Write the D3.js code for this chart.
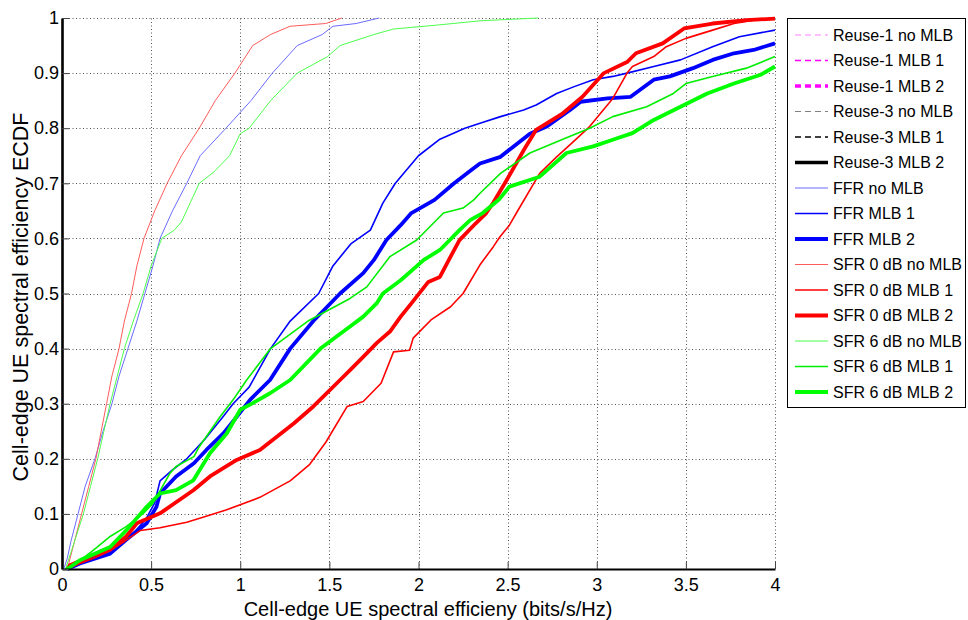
<!DOCTYPE html>
<html>
<head>
<meta charset="utf-8">
<script src="https://cdn.jsdelivr.net/npm/d3@7"></script>
<style>
  html, body { margin: 0; padding: 0; background: #fff; }
  svg { display: block; font-family: "Liberation Sans", Arial, Helvetica, sans-serif; }
</style>
</head>
<body>
<svg id="chart" width="968" height="620"></svg>
<script>
// ECDF samples: [spectral efficiency (bits/s/Hz), cumulative probability]
const ffrNoMlb = [[0.01,0],[0.03,0.02],[0.05,0.05],[0.09,0.1],[0.13,0.15],[0.185,0.2],[0.23,0.25],[0.28,0.3],[0.32,0.35],[0.37,0.4],[0.42,0.45],[0.465,0.5],[0.51,0.55],[0.55,0.6],[0.62,0.65],[0.70,0.7],[0.775,0.75],[0.92,0.8],[1.06,0.85],[1.18,0.9],[1.32,0.95],[1.46,0.97],[1.52,0.985],[1.65,0.99],[1.78,1.0]];
const ffrMlb1 = [[0.02,0],[0.1,0.01],[0.2,0.025],[0.3,0.04],[0.4,0.065],[0.47,0.09],[0.52,0.12],[0.55,0.16],[0.62,0.18],[0.7,0.2],[0.8,0.235],[0.9,0.275],[0.96,0.3],[1.05,0.33],[1.17,0.4],[1.28,0.45],[1.44,0.5],[1.52,0.55],[1.62,0.59],[1.73,0.615],[1.80,0.664],[1.87,0.7],[2.0,0.75],[2.12,0.78],[2.26,0.8],[2.345,0.809],[2.46,0.821],[2.59,0.833],[2.66,0.842],[2.775,0.863],[2.87,0.875],[2.98,0.888],[3.09,0.894],[3.17,0.9],[3.32,0.912],[3.47,0.924],[3.65,0.948],[3.80,0.966],[4.0,0.978]];
const ffrMlb2 = [[0.03,0],[0.1,0.01],[0.27,0.028],[0.36,0.053],[0.475,0.083],[0.53,0.113],[0.55,0.137],[0.64,0.168],[0.74,0.192],[0.81,0.216],[0.905,0.246],[0.98,0.276],[1.055,0.307],[1.167,0.343],[1.28,0.4],[1.41,0.45],[1.56,0.5],[1.69,0.537],[1.75,0.561],[1.82,0.597],[1.9,0.624],[1.96,0.646],[2.09,0.67],[2.2,0.7],[2.3,0.725],[2.345,0.736],[2.46,0.748],[2.53,0.766],[2.625,0.79],[2.72,0.803],[2.85,0.833],[2.91,0.848],[3.06,0.854],[3.19,0.857],[3.32,0.888],[3.41,0.894],[3.54,0.909],[3.65,0.924],[3.77,0.936],[3.88,0.942],[4.0,0.954]];
const sfr0NoMlb = [[0.03,0],[0.07,0.05],[0.11,0.1],[0.15,0.15],[0.19,0.2],[0.22,0.25],[0.25,0.3],[0.28,0.35],[0.32,0.4],[0.35,0.45],[0.39,0.5],[0.42,0.55],[0.46,0.6],[0.52,0.65],[0.59,0.7],[0.67,0.75],[0.77,0.8],[0.86,0.85],[0.97,0.9],[1.07,0.95],[1.17,0.97],[1.28,0.985],[1.48,0.99],[1.57,1.0]];
const sfr0Mlb1 = [[0.03,0],[0.1,0.01],[0.18,0.02],[0.25,0.03],[0.35,0.05],[0.44,0.07],[0.55,0.075],[0.7,0.085],[0.8,0.095],[0.92,0.107],[1.11,0.13],[1.28,0.16],[1.39,0.19],[1.48,0.23],[1.6,0.295],[1.69,0.304],[1.79,0.337],[1.86,0.394],[1.95,0.397],[1.97,0.419],[2.07,0.452],[2.18,0.476],[2.25,0.5],[2.345,0.552],[2.42,0.585],[2.457,0.603],[2.51,0.624],[2.56,0.652],[2.68,0.718],[2.775,0.748],[2.86,0.773],[2.96,0.803],[3.09,0.854],[3.17,0.9],[3.2,0.912],[3.32,0.93],[3.39,0.948],[3.5,0.963],[3.65,0.978],[3.77,0.99],[3.88,0.996],[4.0,1.0]];
const sfr0Mlb2 = [[0.03,0],[0.045,0.007],[0.175,0.025],[0.27,0.035],[0.36,0.059],[0.42,0.083],[0.55,0.101],[0.737,0.143],[0.83,0.168],[0.98,0.198],[1.11,0.216],[1.30,0.264],[1.41,0.295],[1.56,0.343],[1.616,0.361],[1.69,0.385],[1.765,0.41],[1.84,0.431],[1.9,0.458],[1.96,0.482],[2.055,0.521],[2.12,0.53],[2.18,0.567],[2.23,0.597],[2.32,0.627],[2.38,0.646],[2.42,0.665],[2.495,0.706],[2.59,0.76],[2.66,0.797],[2.81,0.827],[2.92,0.857],[3.04,0.9],[3.17,0.92],[3.22,0.936],[3.37,0.954],[3.49,0.981],[3.65,0.99],[3.84,0.996],[4.0,0.999]];
const sfr6NoMlb = [[0.02,0],[0.05,0.03],[0.08,0.06],[0.12,0.1],[0.16,0.15],[0.20,0.2],[0.235,0.25],[0.27,0.3],[0.31,0.35],[0.35,0.4],[0.40,0.45],[0.455,0.5],[0.50,0.55],[0.56,0.6],[0.63,0.615],[0.67,0.63],[0.72,0.665],[0.77,0.7],[0.85,0.72],[0.94,0.75],[1.0,0.79],[1.05,0.8],[1.17,0.85],[1.32,0.9],[1.49,0.93],[1.56,0.95],[1.75,0.97],[1.86,0.98],[2.1,0.987],[2.35,0.995],[2.67,1.0]];
const sfr6Mlb1 = [[0.02,0],[0.1,0.015],[0.175,0.034],[0.27,0.059],[0.36,0.077],[0.456,0.101],[0.51,0.119],[0.606,0.174],[0.64,0.186],[0.74,0.204],[0.77,0.222],[0.886,0.276],[0.96,0.307],[1.036,0.343],[1.17,0.4],[1.38,0.45],[1.616,0.491],[1.71,0.512],[1.84,0.567],[1.99,0.597],[2.14,0.646],[2.25,0.655],[2.31,0.67],[2.345,0.682],[2.46,0.718],[2.625,0.755],[2.81,0.78],[2.96,0.80],[3.09,0.821],[3.28,0.839],[3.43,0.863],[3.5,0.881],[3.65,0.894],[3.84,0.909],[4.0,0.93]];
const sfr6Mlb2 = [[0.03,0],[0.1,0.016],[0.27,0.04],[0.363,0.071],[0.475,0.113],[0.55,0.137],[0.64,0.143],[0.737,0.161],[0.83,0.21],[0.924,0.246],[1.0,0.289],[1.07,0.301],[1.167,0.319],[1.28,0.343],[1.45,0.4],[1.616,0.44],[1.69,0.458],[1.765,0.482],[1.80,0.5],[1.90,0.524],[2.03,0.561],[2.12,0.579],[2.23,0.615],[2.29,0.633],[2.36,0.646],[2.45,0.67],[2.51,0.694],[2.68,0.712],[2.83,0.755],[2.98,0.767],[3.09,0.779],[3.2,0.791],[3.32,0.815],[3.47,0.839],[3.62,0.863],[3.77,0.881],[3.92,0.897],[4.0,0.912]];

// Legend entries (the reuse schemes appear in the legend only)
const seriesNames = ["Reuse-1 no MLB","Reuse-1 MLB 1","Reuse-1 MLB 2","Reuse-3 no MLB","Reuse-3 MLB 1","Reuse-3 MLB 2","FFR no MLB","FFR MLB 1","FFR MLB 2","SFR 0 dB no MLB","SFR 0 dB MLB 1","SFR 0 dB MLB 2","SFR 6 dB no MLB","SFR 6 dB MLB 1","SFR 6 dB MLB 2"];
const seriesData = {
  "FFR no MLB": ffrNoMlb, "FFR MLB 1": ffrMlb1, "FFR MLB 2": ffrMlb2,
  "SFR 0 dB no MLB": sfr0NoMlb, "SFR 0 dB MLB 1": sfr0Mlb1, "SFR 0 dB MLB 2": sfr0Mlb2,
  "SFR 6 dB no MLB": sfr6NoMlb, "SFR 6 dB MLB 1": sfr6Mlb1, "SFR 6 dB MLB 2": sfr6Mlb2
};

const xTicks = [0, 0.5, 1, 1.5, 2, 2.5, 3, 3.5, 4];
const yTicks = [0, 0.1, 0.2, 0.3, 0.4, 0.5, 0.6, 0.7, 0.8, 0.9, 1];
const xTitle = "Cell-edge UE spectral efficieny (bits/s/Hz)";
const yTitle = "Cell-edge UE spectral efficiency ECDF";

// Line styles per series
const styles = {
  "Reuse-1 no MLB":  { color: "#ff7fff", width: 1,   dash: "6,4" },
  "Reuse-1 MLB 1":   { color: "#ff00ff", width: 1.6, dash: "6,4" },
  "Reuse-1 MLB 2":   { color: "#ff00ff", width: 3.5, dash: "6,4" },
  "Reuse-3 no MLB":  { color: "#808080", width: 1.2, dash: "6,4" },
  "Reuse-3 MLB 1":   { color: "#000000", width: 1.6, dash: "6,4" },
  "Reuse-3 MLB 2":   { color: "#000000", width: 3.5, dash: null },
  "FFR no MLB":      { color: "#6b6bff", width: 1,   dash: null },
  "FFR MLB 1":       { color: "#0000ff", width: 1.6, dash: null },
  "FFR MLB 2":       { color: "#0000ff", width: 3.8, dash: null },
  "SFR 0 dB no MLB": { color: "#ff5c5c", width: 1,   dash: null },
  "SFR 0 dB MLB 1":  { color: "#ff0000", width: 1.6, dash: null },
  "SFR 0 dB MLB 2":  { color: "#ff0000", width: 3.8, dash: null },
  "SFR 6 dB no MLB": { color: "#4cff4c", width: 1,   dash: null },
  "SFR 6 dB MLB 1":  { color: "#00ee00", width: 1.6, dash: null },
  "SFR 6 dB MLB 2":  { color: "#00ff00", width: 3.8, dash: null }
};

const svg = d3.select("#chart");
const plotLeft = 62, plotRight = 775, plotTop = 18, plotBottom = 569;

const x = d3.scaleLinear().domain([0, 4]).range([plotLeft, plotRight]);
const y = d3.scaleLinear().domain([0, 1]).range([plotBottom, plotTop]);

// Dotted grid
const grid = svg.append("g").attr("stroke", "#555").attr("stroke-width", 1).attr("stroke-dasharray", "1,2.5");
grid.selectAll("line.gx").data(xTicks.filter(d => d > 0)).join("line")
  .attr("x1", d => Math.round(x(d)) + 0.5).attr("x2", d => Math.round(x(d)) + 0.5)
  .attr("y1", plotBottom).attr("y2", plotTop);
grid.selectAll("line.gy").data(yTicks.filter(d => d > 0)).join("line")
  .attr("x1", plotLeft).attr("x2", plotRight)
  .attr("y1", d => Math.round(y(d)) + 0.5).attr("y2", d => Math.round(y(d)) + 0.5);

// Curves
const line = d3.line().x(d => x(d[0])).y(d => y(d[1]));
const curves = svg.append("g").attr("fill", "none").attr("stroke-linejoin", "round");
Object.keys(seriesData).forEach(name => {
  const s = styles[name];
  curves.append("path")
    .datum(seriesData[name])
    .attr("d", line)
    .attr("stroke", s.color)
    .attr("stroke-width", s.width);
});

// Axes (ticks inside)
const xAxis = d3.axisBottom(x).tickValues(xTicks).tickFormat(d3.format("~g")).tickSizeInner(-7).tickSizeOuter(0).tickPadding(9);
const yAxis = d3.axisLeft(y).tickValues(yTicks).tickFormat(d3.format("~g")).tickSizeInner(-7).tickSizeOuter(0).tickPadding(3);

const gx = svg.append("g").attr("transform", `translate(0,${plotBottom})`).call(xAxis);
gx.select(".domain").attr("stroke", "#000").attr("stroke-width", 2);
gx.selectAll(".tick line").attr("stroke", "#444");
gx.selectAll(".tick text").attr("font-size", 18).attr("fill", "#000")
  .attr("font-family", "'Liberation Sans', Arial, sans-serif");

const gy = svg.append("g").attr("transform", `translate(${plotLeft},0)`).call(yAxis);
gy.select(".domain").attr("stroke", "#000").attr("stroke-width", 2.6);
gy.selectAll(".tick line").attr("stroke", "#444");
gy.selectAll(".tick text").attr("font-size", 18).attr("fill", "#000")
  .attr("font-family", "'Liberation Sans', Arial, sans-serif");

// Axis titles
svg.append("text")
  .attr("x", 428).attr("y", 616)
  .attr("text-anchor", "middle")
  .attr("font-size", 20)
  .text(xTitle);

svg.append("text")
  .attr("transform", "translate(28,297) rotate(-90)")
  .attr("text-anchor", "middle")
  .attr("font-size", 21.5)
  .text(yTitle);

// Legend
const legend = svg.append("g");
legend.append("rect")
  .attr("x", 787.5).attr("y", 18.5).attr("width", 178).attr("height", 389)
  .attr("fill", "#fff").attr("stroke", "#000").attr("stroke-width", 1);

const items = legend.selectAll("g.item").data(seriesNames).join("g")
  .attr("transform", (d, i) => `translate(0,${35 + i * 25.5})`);
items.append("line")
  .attr("x1", 795).attr("x2", 828).attr("y1", 0).attr("y2", 0)
  .attr("stroke", d => styles[d].color)
  .attr("stroke-width", d => styles[d].width)
  .attr("stroke-dasharray", d => styles[d].dash);
items.append("text")
  .attr("x", 833).attr("y", 5.8)
  .attr("font-size", 16)
  .text(d => d);
</script>
</body>
</html>
